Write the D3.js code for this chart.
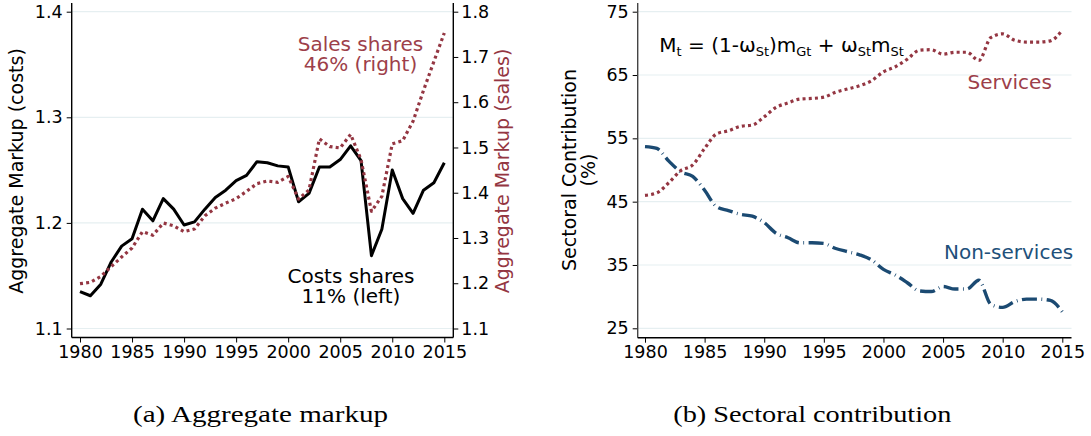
<!DOCTYPE html>
<html>
<head>
<meta charset="utf-8">
<script src="https://cdn.jsdelivr.net/npm/d3@7"></script>
<style>
body { margin: 0; background: #fff; }
svg { display: block; font-family: "DejaVu Sans", sans-serif; }
.tick text { font-family: "DejaVu Sans", sans-serif; font-size: 17.5px; fill: #000; }
.grid line { stroke: #e6eff1; stroke-width: 1.2; }
.caption { font-family: "Liberation Serif", serif; font-size: 24px; }
</style>
</head>
<body>
<svg id="chart" width="1091" height="436"></svg>
<script>
var years = [1980,1981,1982,1983,1984,1985,1986,1987,1988,1989,1990,1991,1992,1993,1994,1995,1996,1997,
             1998,1999,2000,2001,2002,2003,2004,2005,2006,2007,2008,2009,2010,2011,2012,2013,2014,2015]

var costsMarkup = [1.135,1.131,1.142,1.163,1.178,1.185,1.213,1.202,1.223,1.213,1.198,1.201,1.213,1.224,1.231,1.240,1.245,1.258,
                   1.257,1.254,1.253,1.220,1.228,1.253,1.253,1.260,1.273,1.259,1.169,1.194,1.250,1.223,1.209,1.231,1.238,1.257]

var salesMarkup = [1.199,1.202,1.215,1.237,1.258,1.278,1.314,1.306,1.333,1.327,1.314,1.320,1.349,1.366,1.377,1.387,1.403,1.420,
                   1.426,1.423,1.436,1.386,1.406,1.519,1.502,1.499,1.529,1.473,1.359,1.392,1.508,1.515,1.558,1.626,1.690,1.753]

var services = [46.0,46.4,48.0,49.9,50.8,53.4,55.7,56.2,56.9,57.1,58.4,59.9,60.6,61.2,61.3,61.5,62.3,62.8,
                63.3,64.1,65.5,66.3,67.5,68.9,69.0,68.3,68.6,68.6,67.3,70.9,71.5,70.5,70.2,70.2,70.4,72.1]

var nonServices = [53.7,53.4,51.4,49.7,49.0,46.8,44.2,43.6,43.0,42.7,41.7,40.0,39.3,38.5,38.5,38.4,37.6,37.1,
                   36.6,35.8,34.3,33.4,32.2,30.9,30.8,31.6,31.2,31.2,32.6,28.8,28.3,29.2,29.6,29.6,29.4,27.6]

var yearTicks = [1980,1985,1990,1995,2000,2005,2010,2015]
var costTicks = [1.1,1.2,1.3,1.4]
var salesTicks = [1.1,1.2,1.3,1.4,1.5,1.6,1.7,1.8]
var shareTicks = [25,35,45,55,65,75]

var red = "#943642"
var blue = "#1b4a72"

var svg = d3.select("#chart")

// helper: pairs years with one series
var toPoints = function(values)
{
    return years.map(function(yr, i) { return {year: yr, value: values[i]} })
}

var drawGrid = function(target, ticks, yScale, x0, x1)
{
    target.append("g")
        .classed("grid", true)
        .selectAll("line")
        .data(ticks)
        .enter()
        .append("line")
        .attr("x1", x0)
        .attr("x2", x1)
        .attr("y1", function(d) { return yScale(d) })
        .attr("y2", function(d) { return yScale(d) })
}

var drawLine = function(target, values, xScale, yScale, color, width, dash, curve)
{
    var line = d3.line()
        .x(function(d) { return xScale(d.year) })
        .y(function(d) { return yScale(d.value) })
        .curve(curve)

    target.append("path")
        .datum(toPoints(values))
        .attr("d", line)
        .attr("fill", "none")
        .attr("stroke", color)
        .attr("stroke-width", width)
        .attr("stroke-dasharray", dash)
        .attr("stroke-linejoin", "round")
}

var drawFrameLine = function(target, x1, y1, x2, y2, color)
{
    target.append("line")
        .attr("x1", x1).attr("y1", y1)
        .attr("x2", x2).attr("y2", y2)
        .attr("stroke", color)
        .attr("stroke-width", 1.4)
}

var rotatedLabel = function(target, txt, x, y, color)
{
    target.append("text")
        .text(txt)
        .attr("transform", "translate(" + x + "," + y + ") rotate(-90)")
        .attr("text-anchor", "middle")
        .attr("font-size", "19px")
        .attr("fill", color)
}

var noteLine = function(target, txt, x, y, color, anchor)
{
    target.append("text")
        .text(txt)
        .attr("x", x)
        .attr("y", y)
        .attr("text-anchor", anchor)
        .attr("font-size", "20px")
        .attr("fill", color)
}

var caption = function(target, txt, x, width)
{
    target.append("text")
        .classed("caption", true)
        .attr("x", x)
        .attr("y", 421.5)
        .attr("textLength", width)
        .attr("lengthAdjust", "spacingAndGlyphs")
        .text(txt)
}

var initGraph1 = function()
{
    var plot = {left: 71.7, right: 453.3, top: 3, bottom: 337.5}

    var xScale = d3.scaleLinear()
        .domain([1980, 2015])
        .range([80, 444.3])

    var yCost = d3.scaleLinear()
        .domain([1.1, 1.4])
        .range([328.5, 11.7])

    var ySales = d3.scaleLinear()
        .domain([1.1, 1.8])
        .range([328.5, 11.7])

    var g = svg.append("g")

    drawGrid(g, costTicks, yCost, plot.left, plot.right)

    drawLine(g, costsMarkup, xScale, yCost, "#000", 3, null, d3.curveLinear)
    drawLine(g, salesMarkup, xScale, ySales, red, 3.2, "3,3.2", d3.curveLinear)

    var xAxis = d3.axisBottom(xScale).tickValues(yearTicks).tickFormat(d3.format("d"))
        .tickSize(5).tickPadding(3)
    var yAxisL = d3.axisLeft(yCost).tickValues(costTicks).tickFormat(d3.format(".1f"))
        .tickSize(5).tickPadding(4)
    var yAxisR = d3.axisRight(ySales).tickValues(salesTicks).tickFormat(d3.format(".1f"))
        .tickSize(5).tickPadding(3)

    g.append("g").attr("transform", "translate(0," + plot.bottom + ")").call(xAxis)
    g.append("g").attr("transform", "translate(" + plot.left + ",0)").call(yAxisL)
    g.append("g").attr("transform", "translate(" + plot.right + ",0)").call(yAxisR)
    g.selectAll(".domain").remove()

    drawFrameLine(g, plot.left, plot.top, plot.left, plot.bottom, "#000")
    drawFrameLine(g, plot.right, plot.top, plot.right, plot.bottom, "#000")
    drawFrameLine(g, plot.left, plot.bottom, plot.right, plot.bottom, "#000")

    rotatedLabel(g, "Aggregate Markup (costs)", 22.5, 171, "#000")
    rotatedLabel(g, "Aggregate Markup (sales)", 508.5, 171, red)

    noteLine(g, "Sales shares", 360.5, 50.7, "#9d3f4a", "middle")
    noteLine(g, "46% (right)", 360.5, 71, "#9d3f4a", "middle")
    noteLine(g, "Costs shares", 351, 283.3, "#000", "middle")
    noteLine(g, "11% (left)", 351, 303.3, "#000", "middle")

    caption(g, "(a) Aggregate markup", 133, 255)
}

var initGraph2 = function()
{
    var plot = {left: 637.7, right: 1071.5, top: 3, bottom: 337.7}

    var xScale = d3.scaleLinear()
        .domain([1980, 2015])
        .range([645, 1062.3])

    var yScale = d3.scaleLinear()
        .domain([25, 75])
        .range([328.3, 11.7])

    var g = svg.append("g")

    drawGrid(g, shareTicks, yScale, plot.left, plot.right)

    drawLine(g, nonServices, xScale, yScale, blue, 3.4, "15,4.5,0.8,4.5", d3.curveMonotoneX)
    drawLine(g, services, xScale, yScale, red, 3.2, "3,3.2", d3.curveMonotoneX)

    var xAxis = d3.axisBottom(xScale).tickValues(yearTicks).tickFormat(d3.format("d"))
        .tickSize(5).tickPadding(3)
    var yAxis = d3.axisLeft(yScale).tickValues(shareTicks)
        .tickSize(5).tickPadding(4)

    g.append("g").attr("transform", "translate(0," + plot.bottom + ")").call(xAxis)
    g.append("g").attr("transform", "translate(" + plot.left + ",0)").call(yAxis)
    g.selectAll(".domain").remove()

    drawFrameLine(g, plot.left, plot.top, plot.left, plot.bottom, "#444")
    drawFrameLine(g, plot.left, plot.bottom, plot.right, plot.bottom, "#000")

    rotatedLabel(g, "Sectoral Contribution", 576, 170, "#000")
    rotatedLabel(g, "(%)", 595, 170, "#000")

    // formula, subscripts done with tspans
    var f = g.append("text")
        .attr("x", 659.3)
        .attr("y", 52.3)
        .attr("font-size", "20px")
        .attr("fill", "#000")
    var parts = [["M", 0], ["t", 1], [" = (1-\u03c9", 0], ["St", 1], [")m", 0], ["Gt", 1],
                 [" + \u03c9", 0], ["St", 1], ["m", 0], ["St", 1]]
    parts.forEach(function(p, i)
    {
        var shift = 0
        if (p[1]) shift = 4
        else if (i > 0 && parts[i - 1][1]) shift = -4
        f.append("tspan")
            .text(p[0])
            .attr("font-size", p[1] ? "13px" : "20px")
            .attr("dy", shift)
    })

    noteLine(g, "Services", 967.5, 89, "#9d3f4a", "start")
    noteLine(g, "Non-services", 944, 259.3, "#21507a", "start")

    caption(g, "(b) Sectoral contribution", 673.3, 278)
}

initGraph1()
initGraph2()
</script>
</body>
</html>
